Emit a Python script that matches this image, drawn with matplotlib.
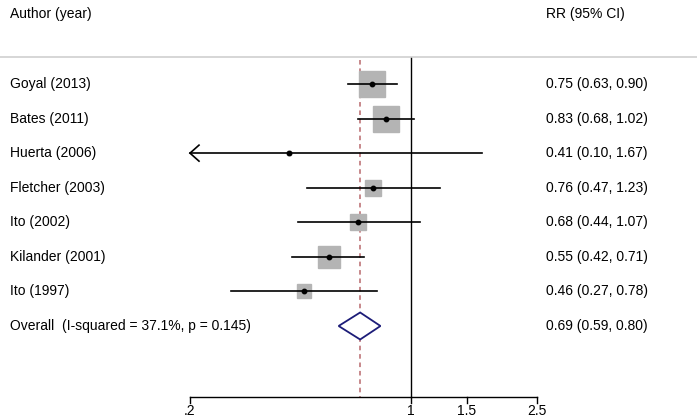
import matplotlib.pyplot as plt
import matplotlib.transforms as mtransforms
import numpy as np

plt.rcParams['font.family'] = ['Liberation Sans', 'DejaVu Sans']

# data
studies = ['Goyal (2013)', 'Bates (2011)', 'Huerta (2006)', 'Fletcher (2003)',
           'Ito (2002)', 'Kilander (2001)', 'Ito (1997)']
rr = [0.75, 0.83, 0.41, 0.76, 0.68, 0.55, 0.46]
lo = [0.63, 0.68, 0.10, 0.47, 0.44, 0.42, 0.27]
hi = [0.90, 1.02, 1.67, 1.23, 1.07, 0.71, 0.78]
weights = [26.7, 24.8, 0.9, 9.4, 10.6, 19.4, 8.2]
overall = (0.69, 0.59, 0.80)
overall_label = 'Overall  (I-squared = 37.1%, p = 0.145)'
xticks = [0.2, 1, 1.5, 2.5]
xtick_labels = ['.2', '1', '1.5', '2.5']

W, H = 697, 419
fig = plt.figure(figsize=(W / 100, H / 100), dpi=100)
ax = fig.add_axes([0, 0, 1, 1])
ax.set_xscale('log')
ax.axis('off')

# map pixels -> data
px_x0, px_x1 = 190, 537
k = np.log(2.5 / 0.2) / (px_x1 - px_x0)
ax.set_xlim(0.2 * np.exp(-px_x0 * k), 2.5 * np.exp((W - px_x1) * k))
row_px0, row_step = 84, 34.57
ax.set_ylim((H - row_px0) / row_step, -row_px0 / row_step)


def py(px):
    return (px - row_px0) / row_step


trans = mtransforms.blended_transform_factory(ax.transAxes, ax.transData)
fs = 10
x_left = 10 / W
x_right = 546 / W

# header
ax.text(x_left, py(14), 'Author (year)', transform=trans, fontsize=fs, va='center')
ax.text(x_right, py(14), 'RR (95% CI)', transform=trans, fontsize=fs, va='center')
ax.plot([0, 1], [py(57.5), py(57.5)], transform=trans, color='#d0d0d0', lw=1.2)

# reference lines
ax.plot([1, 1], [py(58), py(397)], color='black', lw=1.0)
ax.plot([overall[0]] * 2, [py(60), py(397)], color='#b8686c', lw=1.1,
        dashes=(3, 2.5))

# studies
for i, name in enumerate(studies):
    y = i
    ax.text(x_left, y, name, transform=trans, fontsize=fs, va='center')
    ax.text(x_right, y, f'{rr[i]:.2f} ({lo[i]:.2f}, {hi[i]:.2f})',
            transform=trans, fontsize=fs, va='center')
    side = 5.22 * np.sqrt(weights[i])  # pixels
    ax.plot([rr[i]], [y], marker='s', ms=side * 0.72, color='#b4b4b4',
            mec='#b4b4b4', zorder=2)
    left = max(lo[i], 0.2)
    ax.plot([left, hi[i]], [y, y], color='black', lw=1.2, zorder=3)
    if lo[i] < 0.2:
        # open arrow head at the axis edge
        hx = 0.2 * np.exp(9 * k)
        hy = 8 / row_step
        ax.plot([hx, 0.2, hx], [y - hy, y, y + hy], color='black', lw=1.2,
                solid_joinstyle='miter', zorder=3)
    ax.plot([rr[i]], [y], marker='o', ms=3.2, color='black', zorder=4)

# overall
yo = len(studies)
ax.text(x_left, yo, overall_label, transform=trans, fontsize=fs, va='center')
ax.text(x_right, yo, f'{overall[0]:.2f} ({overall[1]:.2f}, {overall[2]:.2f})',
        transform=trans, fontsize=fs, va='center')
hh = 13.5 / row_step
ax.fill([overall[1], overall[0], overall[2], overall[0], overall[1]],
        [yo, yo - hh, yo, yo + hh, yo], facecolor='white', edgecolor='#1c1c78',
        lw=1.3, zorder=3)

# x axis
ya = py(397)
ax.plot([0.2, 2.5], [ya, ya], color='black', lw=1.0)
for t, lab in zip(xticks, xtick_labels):
    ax.plot([t, t], [ya, py(403)], color='black', lw=1.0)
    ax.text(t, py(411), lab, ha='center', va='center', fontsize=fs)

fig.savefig('out.png', dpi=100)
